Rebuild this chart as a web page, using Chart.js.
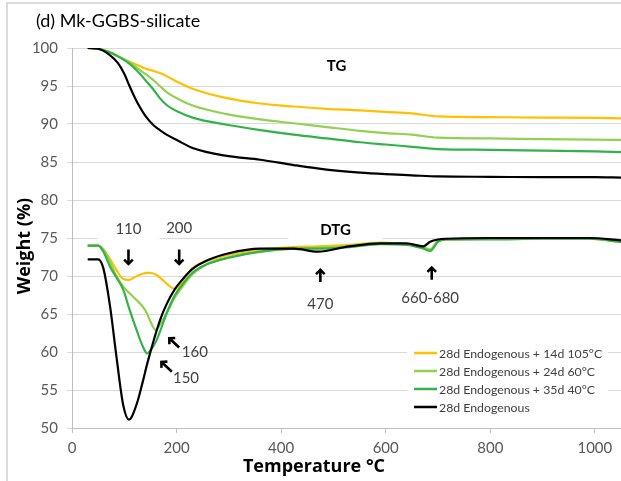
<!DOCTYPE html>
<html>
<head>
<meta charset="utf-8">
<script src="https://cdn.jsdelivr.net/npm/chart.js@4.4.1/dist/chart.umd.min.js"></script>
<style>
  html, body { margin: 0; padding: 0; background: #fff; }
  #wrap { width: 621px; height: 481px; position: relative; }
</style>
</head>
<body>
<div id="wrap"><canvas id="chart" width="621" height="481"></canvas></div>
<script>
// TG curves (weight %, upper group)
const tgTemps = [30, 50, 70, 88, 100, 110, 120, 130, 140, 155, 168, 181, 203, 232, 296, 360, 424, 487, 551, 600, 650, 700, 800, 900, 1000, 1050];
const tgEndo  = [100, 99.9, 99.2, 98.0, 96.6, 95.0, 93.5, 92.2, 91.1, 89.9, 89.2, 88.6, 87.8, 86.8, 85.8, 85.3, 84.6, 84.0, 83.6, 83.4, 83.25, 83.1, 83.05, 83.0, 83.0, 82.95];
const tg105   = [100, 99.9, 99.5, 98.9, 98.5, 98.2, 97.9, 97.6, 97.3, 97.0, 96.7, 96.3, 95.5, 94.6, 93.4, 92.7, 92.3, 92.0, 91.8, 91.6, 91.4, 91.0, 90.9, 90.85, 90.8, 90.75];
const tg60    = [100, 99.9, 99.5, 98.9, 98.5, 98.1, 97.6, 97.1, 96.6, 95.8, 95.0, 94.2, 93.3, 92.4, 91.3, 90.6, 90.1, 89.6, 89.1, 88.8, 88.6, 88.2, 88.1, 88.0, 87.95, 87.9];
const tg40    = [100, 99.9, 99.5, 98.9, 98.4, 97.9, 97.3, 96.6, 95.8, 94.6, 93.4, 92.5, 91.6, 90.8, 89.9, 89.2, 88.6, 88.1, 87.6, 87.3, 87.0, 86.7, 86.6, 86.5, 86.4, 86.3];

// DTG curves (shifted, lower group)
const dtgTemps = [30, 50, 60, 73, 85, 98, 109, 124, 135, 144, 150, 160, 170, 181, 197, 207, 230, 260, 300, 360, 424, 470, 530, 590, 640, 672, 685, 700, 715, 800, 900, 990, 1050];
const dtgEndo  = [72.2, 72.2, 71.0, 65.9, 59.4, 53.0, 51.1, 53.2, 56.0, 58.5, 60.0, 62.4, 64.5, 66.3, 68.3, 69.2, 70.9, 72.1, 73.0, 73.6, 73.6, 73.2, 73.9, 74.3, 74.3, 73.9, 74.5, 74.8, 74.9, 75.0, 75.0, 75.0, 74.7];
const dtg105   = [74.0, 74.0, 73.5, 72.2, 70.8, 69.6, 69.5, 70.0, 70.3, 70.4, 70.4, 70.2, 69.7, 69.0, 68.3, 68.9, 71.0, 72.0, 72.8, 73.5, 73.8, 73.9, 74.1, 74.4, 74.2, 73.8, 73.4, 74.6, 74.8, 74.9, 74.95, 74.9, 74.5];
const dtg60    = [74.0, 74.0, 73.5, 71.8, 70.0, 68.6, 67.8, 66.8, 66.0, 65.0, 64.0, 62.9, 63.8, 65.1, 67.2, 68.2, 70.2, 71.6, 72.5, 73.2, 73.6, 73.7, 73.9, 74.3, 74.2, 73.8, 73.5, 74.6, 74.8, 74.9, 74.95, 74.9, 74.5];
const dtg40    = [74.0, 74.0, 73.2, 71.2, 69.8, 68.2, 65.8, 62.8, 60.8, 59.8, 60.2, 61.3, 63.0, 65.1, 67.5, 68.5, 70.4, 71.6, 72.4, 73.2, 73.6, 73.6, 73.8, 74.2, 74.1, 73.6, 73.3, 74.5, 74.8, 74.8, 74.9, 74.9, 74.5];

const seriesNames = ["28d Endogenous + 14d 105°C", "28d Endogenous + 24d 60°C", "28d Endogenous + 35d 40°C", "28d Endogenous"];
const seriesColors = ["#ffc000", "#92d050", "#33b24a", "#000000"];

const FONT = "Lato, 'Open Sans', sans-serif";
const BOLD_FONT = "'Open Sans', Lato, sans-serif";

function pts(temps, vals) {
  return temps.map((t, i) => ({ x: t, y: vals[i] }));
}

// text notes placed in data units (temperature, weight)
const notes = [
  { text: "TG", t: 506, w: 97.6, bold: true },
  { text: "DTG", t: 504, w: 76.05, bold: true, box: [32, 12] },
  { text: "110", t: 108, w: 76.2, box: [18, 12] },
  { text: "200", t: 205, w: 76.35 },
  { text: "470", t: 475, w: 66.3 },
  { text: "660-680", t: 685, w: 67.1 },
  { text: "160", t: 235, w: 60.0 },
  { text: "150", t: 218, w: 56.5 }
];
// arrows: tail -> head, data units
const arrows = [
  { t0: 108, w0: 73.5, t1: 108, w1: 71.6 },
  { t0: 205, w0: 73.5, t1: 205, w1: 71.6 },
  { t0: 475, w0: 69.2, t1: 475, w1: 70.8 },
  { t0: 688, w0: 69.5, t1: 688, w1: 71.1 },
  { t0: 205, w0: 60.6, t1: 186, w1: 61.8 },
  { t0: 191, w0: 57.4, t1: 171, w1: 58.7 }
];

function drawArrow(ctx, x0, y0, x1, y1) {
  const a = Math.atan2(y1 - y0, x1 - x0);
  const h = 6;
  ctx.beginPath();
  ctx.moveTo(x0, y0);
  ctx.lineTo(x1, y1);
  ctx.moveTo(x1 - h * Math.cos(a - 0.8), y1 - h * Math.sin(a - 0.8));
  ctx.lineTo(x1, y1);
  ctx.lineTo(x1 - h * Math.cos(a + 0.8), y1 - h * Math.sin(a + 0.8));
  ctx.stroke();
}

const extras = {
  id: "extras",
  beforeDraw(chart) {
    const ctx = chart.ctx;
    ctx.save();
    ctx.strokeStyle = "#d0d0d0";
    ctx.lineWidth = 1.5;
    ctx.beginPath();
    ctx.moveTo(7, 481);
    ctx.lineTo(7, 3);
    ctx.lineTo(621, 3);
    ctx.stroke();
    ctx.restore();
  },
  beforeDatasetsDraw(chart) {
    const { ctx, scales: { x, y } } = chart;
    ctx.save();
    ctx.fillStyle = "#fff";
    notes.forEach(n => {
      if (!n.box) return;
      ctx.font = (n.bold ? "bold " : "") + "15px " + FONT;
      const w = ctx.measureText(n.text).width;
      const px = x.getPixelForValue(n.t), py = y.getPixelForValue(n.w);
      ctx.fillRect(px - w / 2 - n.box[0], py - 10, w + 2 * n.box[0], n.box[1] + 10);
    });
    // legend background
    ctx.fillRect(407, 343, 201, 74);
    ctx.restore();
  },
  afterDraw(chart) {
    const { ctx, scales: { x, y } } = chart;
    ctx.save();
    // chart title
    ctx.fillStyle = "#000";
    ctx.font = "18px " + FONT;
    ctx.textAlign = "left";
    ctx.textBaseline = "middle";
    ctx.fillText("(d) Mk-GGBS-silicate", 36, 21);
    // axis titles
    ctx.font = "bold 18px " + BOLD_FONT;
    ctx.textAlign = "center";
    ctx.fillText("Temperature °C", 314, 467);
    ctx.save();
    ctx.translate(25, 246);
    ctx.rotate(-Math.PI / 2);
    ctx.fillText("Weight (%)", 0, 0);
    ctx.restore();
    // notes
    notes.forEach(n => {
      ctx.font = (n.bold ? "bold " : "") + "15px " + FONT;
      ctx.fillStyle = n.bold ? "#000" : "#404040";
      ctx.fillText(n.text, x.getPixelForValue(n.t), y.getPixelForValue(n.w));
    });
    ctx.strokeStyle = "#000";
    ctx.lineWidth = 2.6;
    arrows.forEach(a => drawArrow(ctx,
      x.getPixelForValue(a.t0), y.getPixelForValue(a.w0),
      x.getPixelForValue(a.t1), y.getPixelForValue(a.w1)));
    // legend
    ctx.font = "12.3px " + FONT;
    ctx.textAlign = "left";
    ctx.fillStyle = "#404040";
    seriesNames.forEach((name, i) => {
      const ly = 353 + i * 18;
      ctx.strokeStyle = seriesColors[i];
      ctx.lineWidth = 2.5;
      ctx.beginPath();
      ctx.moveTo(414, ly);
      ctx.lineTo(437, ly);
      ctx.stroke();
      ctx.fillText(name, 439, ly + 1);
    });
    ctx.restore();
  }
};

// first dataset is drawn on top in Chart.js, so black goes first
const order = [3, 2, 1, 0];
const tgSets = [tg105, tg60, tg40, tgEndo];
const dtgSets = [dtg105, dtg60, dtg40, dtgEndo];
const datasets = [];
order.forEach(i => {
  datasets.push({ label: seriesNames[i], data: pts(dtgTemps, dtgSets[i]), borderColor: seriesColors[i] });
  datasets.push({ label: seriesNames[i] + " TG", data: pts(tgTemps, tgSets[i]), borderColor: seriesColors[i] });
});

new Chart(document.getElementById("chart"), {
  type: "line",
  data: { datasets: datasets },
  options: {
    responsive: false,
    animation: false,
    layout: { padding: { top: 48, left: 0, right: 0, bottom: 0 } },
    elements: {
      point: { radius: 0 },
      line: { borderWidth: 2.2, cubicInterpolationMode: "monotone", fill: false }
    },
    plugins: { legend: { display: false }, tooltip: { enabled: false } },
    scales: {
      x: {
        type: "linear",
        min: 0,
        max: 1050,
        ticks: { stepSize: 200, includeBounds: false, color: "#595959", font: { family: FONT, size: 15 }, padding: 6, maxRotation: 0, callback: v => String(v) },
        grid: { drawOnChartArea: false, tickLength: 5, color: "#bfbfbf" },
        border: { color: "#bfbfbf" },
        afterFit(s) { s.height = 53; }
      },
      y: {
        min: 50,
        max: 100,
        ticks: { stepSize: 5, color: "#595959", font: { family: FONT, size: 15 }, padding: 9 },
        grid: { color: "#d9d9d9", tickLength: 5 },
        border: { color: "#bfbfbf" },
        afterFit(s) { s.width = 72; }
      }
    }
  },
  plugins: [extras]
});
</script>
</body>
</html>
